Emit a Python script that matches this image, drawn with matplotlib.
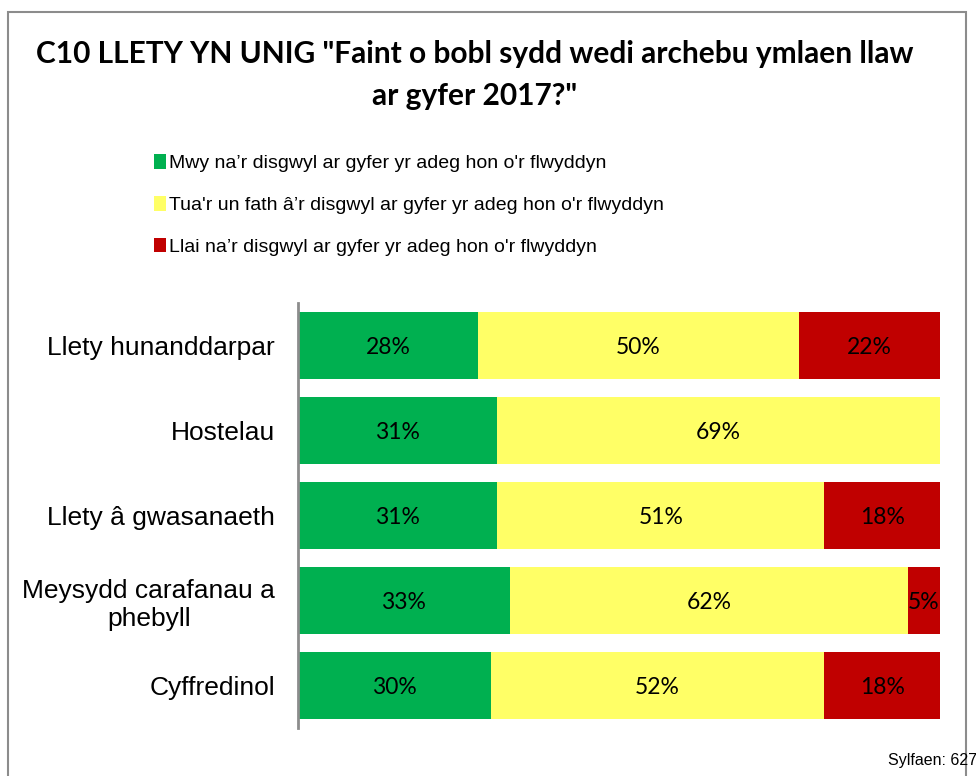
import matplotlib
matplotlib.use("Agg")
import matplotlib.pyplot as plt
from matplotlib.patches import Rectangle, Patch

# data
categorias = ["Llety hunanddarpar", "Hostelau", "Llety â gwasanaeth",
              "Meysydd carafanau a\nphebyll", "Cyffredinol"]
mwy = [28, 31, 31, 33, 30]
tua = [50, 69, 51, 62, 52]
llai = [22, 0, 18, 5, 18]
series_labels = ["Mwy na\u2019r disgwyl ar gyfer yr adeg hon o'r flwyddyn",
                 "Tua'r un fath â\u2019r disgwyl ar gyfer yr adeg hon o'r flwyddyn",
                 "Llai na\u2019r disgwyl ar gyfer yr adeg hon o'r flwyddyn"]
cores = ["#00B050", "#FFFF66", "#C00000"]

sans = ["Liberation Sans", "DejaVu Sans"]
calib = ["Lato", "DejaVu Sans"]

W, H = 976, 776
fig = plt.figure(figsize=(W / 100, H / 100), dpi=100)

# moldura cinza
fig.patches.append(Rectangle((8 / W, -0.05), 958 / W, 1.05 - 12 / H,
                             transform=fig.transFigure, fill=False,
                             edgecolor="#8c8c8c", linewidth=1.5, clip_on=False))

ax = fig.add_axes([298 / W, 1 - 728 / H, 642 / W, 425 / H])

ypos = list(range(len(categorias)))
esquerda = [0] * len(categorias)
for valores, cor in zip([mwy, tua, llai], cores):
    bars = ax.barh(ypos, valores, left=esquerda, height=0.78, color=cor,
                   edgecolor="none")
    for b, v in zip(bars, valores):
        if v > 0:
            ax.text(b.get_x() + b.get_width() / 2, b.get_y() + b.get_height() / 2,
                    f"{v}%", ha="center", va="center_baseline", fontsize=16.5,
                    family=calib, color="black")
    esquerda = [e + v for e, v in zip(esquerda, valores)]

ax.set_xlim(0, 100)
ax.set_ylim(len(categorias) - 0.5, -0.5)
ax.set_yticks(ypos)
ax.set_yticklabels(categorias, fontsize=19, family=sans, multialignment="center")
ax.tick_params(axis="y", length=0, pad=16.5)
ax.set_xticks([])
for s in ["top", "right", "bottom"]:
    ax.spines[s].set_visible(False)
ax.spines["left"].set_color("#8c8c8c")
ax.spines["left"].set_linewidth(2)

# titulo
fig.text(475 / W, 1 - 75 / H,
         'C10 LLETY YN UNIG "Faint o bobl sydd wedi archebu ymlaen llaw\nar gyfer 2017?"',
         ha="center", va="center", fontsize=21.5, fontweight="bold",
         family=calib, linespacing=1.65)

# legenda
handles = [Patch(facecolor=c, edgecolor="none") for c in cores]
fig.legend(handles, series_labels, loc="upper left",
           bbox_to_anchor=(146 / W, 1 - 146 / H), frameon=False,
           prop={"family": sans, "size": 14}, handlelength=0.65,
           handleheight=0.8, handletextpad=0.15, labelspacing=1.22,
           borderaxespad=0)

fig.text(888 / W, 1 - 761 / H, "Sylfaen: 627", fontsize=11.5,
         family=sans, va="center", ha="left")

fig.savefig("out.png", dpi=100)
